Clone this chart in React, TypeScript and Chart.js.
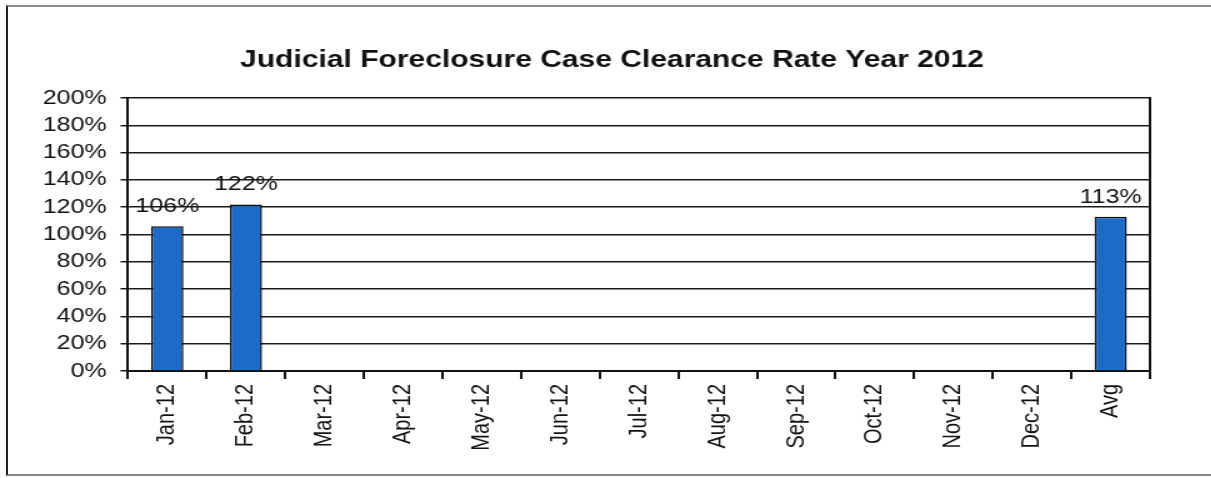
import React, { useEffect, useRef } from "react";
import { Chart, registerables } from "chart.js";

Chart.register(...registerables);

const categories = ["Jan-12", "Feb-12", "Mar-12", "Apr-12", "May-12", "Jun-12", "Jul-12", "Aug-12", "Sep-12", "Oct-12", "Nov-12", "Dec-12", "Avg"];
const clearanceRate: (number | null)[] = [1.06, 1.22, null, null, null, null, null, null, null, null, null, null, 1.13];
const dataLabels: (string | null)[] = ["106%", "122%", null, null, null, null, null, null, null, null, null, null, "113%"];
const titleText = "Judicial Foreclosure Case Clearance Rate Year 2012";

const STRETCH = 1.25;
const W = 969;
const H = 478;
const FONT = "'Liberation Sans', Arial, Helvetica, sans-serif";

const labelPlugin = {
  id: "barLabels",
  afterDatasetsDraw(chart: any) {
    const ctx = chart.ctx;
    const meta = chart.getDatasetMeta(0);
    ctx.save();
    ctx.font = `20px ${FONT}`;
    ctx.fillStyle = "#111";
    ctx.textAlign = "center";
    ctx.textBaseline = "alphabetic";
    meta.data.forEach((el: any, i: number) => {
      const lbl = dataLabels[i];
      if (lbl == null || clearanceRate[i] == null) return;
      ctx.fillText(lbl, el.x, el.y - 14);
    });
    ctx.restore();
  },
};

export default function App() {
  const ref = useRef<HTMLCanvasElement | null>(null);
  useEffect(() => {
    if (!ref.current) return;
    const chart = new Chart(ref.current, {
      type: "bar",
      data: {
        labels: categories,
        datasets: [
          {
            data: clearanceRate,
            backgroundColor: "#1c6bc8",
            borderColor: "#0a0a0a",
            borderWidth: 1.5,
            categoryPercentage: 1,
            barPercentage: 0.41,
            yAxisID: "y",
          },
        ],
      },
      options: {
        animation: false,
        responsive: true,
        maintainAspectRatio: false,
        layout: { padding: { left: 33, right: 22.8, top: 0, bottom: 7 } },
        plugins: {
          legend: { display: false },
          tooltip: { enabled: false },
          title: {
            display: true,
            text: titleText,
            color: "#111",
            font: { family: FONT, size: 24, weight: "bold" },
            padding: { top: 45.6, bottom: 23.6 },
          },
        },
        scales: {
          x: {
            offset: true,
            grid: { display: true, drawOnChartArea: false, drawTicks: true, tickLength: 8, offset: true, color: "#111", lineWidth: 2 },
            border: { display: true, color: "#111", width: 2 },
            ticks: {
              color: "#111",
              font: { family: FONT, size: 20 },
              minRotation: 90,
              maxRotation: 90,
              autoSkip: false,
              padding: 5,
            },
            afterFit: (s: any) => {
              s.height = 100;
            },
          },
          y: {
            position: "left",
            min: 0,
            max: 2,
            ticks: {
              stepSize: 0.2,
              color: "#111",
              font: { family: FONT, size: 20 },
              padding: 11,
              callback: (v: any) => `${Math.round(Number(v) * 100)}%`,
            },
            grid: { color: "#1a1a1a", lineWidth: 1.5, tickLength: 6, drawTicks: true },
            border: { display: true, color: "#111", width: 2 },
            afterFit: (s: any) => {
              s.width = 69.4;
            },
          },
          y2: {
            position: "right",
            display: true,
            min: 0,
            max: 2,
            ticks: { display: false },
            grid: { display: true, drawOnChartArea: false, drawTicks: false },
            border: { display: true, color: "#111", width: 2 },
            afterFit: (s: any) => {
              s.width = 26.2;
            },
          },
        },
      },
      plugins: [labelPlugin],
    });
    return () => chart.destroy();
  }, []);

  return (
    <div>
      <div
        style={{
          position: "absolute",
          left: 6,
          top: 5,
          width: 1220,
          height: 471,
          boxSizing: "border-box",
          borderLeft: "2px solid #222",
          borderTop: "2px solid #8a8a8a",
          borderBottom: "2px solid #8a8a8a",
          background: "#fff",
        }}
      />
      <div
        style={{
          position: "absolute",
          left: 0,
          top: 0,
          width: W,
          height: H,
          transform: `scaleX(${STRETCH})`,
          transformOrigin: "0 0",
        }}
      >
        <canvas ref={ref} />
      </div>
    </div>
  );
}
